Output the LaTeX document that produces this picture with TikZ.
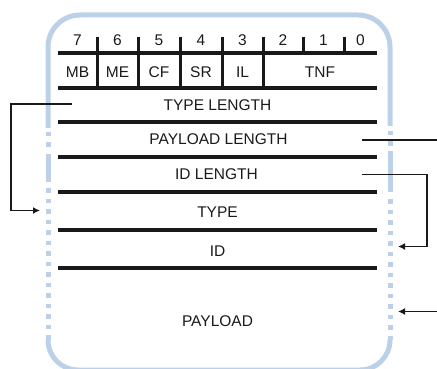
\documentclass[tikz,border=0pt]{standalone}
\usepackage{fontspec}
\setmainfont{Liberation Sans}
\usetikzlibrary{arrows.meta}
\definecolor{frameblue}{RGB}{188,209,233}
\definecolor{ink}{RGB}{25,25,25}
\tikzset{
  frame/.style={draw=frameblue, line width=5pt},
  framedots/.style={frame, dash pattern=on 4.5pt off 6pt},
  rule/.style={draw=ink, line width=3.2pt},
  tick/.style={draw=ink, line width=3pt},
  lbl/.style={inner sep=0pt, text=ink, font=\fontsize{15.5}{17}\selectfont, anchor=center},
  conn/.style={draw=ink, line width=1.4pt},
  arr/.style={conn, -{Latex[length=7pt,width=7pt]}}
}
\begin{document}
\begin{tikzpicture}[x=1pt,y=-1pt]
\useasboundingbox (0,0) rectangle (437,369);

% record frame: solid top, dotted sides, solid bottom corners
\draw[frame, rounded corners=32pt] (48,128) -- (48,15) -- (390,15) -- (390,126);
\begin{scope}
  \clip (0,0) rectangle (437,369);
  \draw[frame, rounded corners=30pt] (48,340) -- (48,370) -- (390,370) -- (390,340);
\end{scope}
% left side
\draw[framedots] (48,132) -- (48,150);
\draw[frame] (48,154) -- (48,182);
\draw[framedots] (48,188) -- (48,342);
% right side
\draw[framedots] (390,131) -- (390,148);
\draw[frame] (390,151) -- (390,192);
\draw[framedots] (390,199) -- (390,342);

% header byte: bit numbers, ticks and flag fields
\foreach \n/\x in {7/77.5,6/117.5,5/159,4/201,3/242.5,2/283,1/323.5,0/360.5}
  \node[lbl] (bit\n) at (\x,40) {\n};
\foreach \x in {97,138,180,222,263}
  \draw[tick] (\x,37) -- (\x,88);
\foreach \x in {303,344}
  \draw[tick] (\x,37) -- (\x,53);
\draw[rule] (58,53) -- (377,53);
\draw[rule] (58,88) -- (377,88);
\node[lbl] (mb) at (77.5,72) {MB};
\node[lbl] (me) at (117.5,72) {ME};
\node[lbl] (cf) at (159,72) {CF};
\node[lbl] (sr) at (201,72) {SR};
\node[lbl] (il) at (242.5,72) {IL};
\node[lbl] (tnf) at (320,72) {TNF};

% record fields
\node[lbl] (typelen) at (217.5,105) {TYPE LENGTH};
\draw[rule] (58,122) -- (377,122);
\node[lbl] (paylen) at (218.5,139) {PAYLOAD LENGTH};
\draw[rule] (58,157) -- (377,157);
\node[lbl] (idlen) at (216.5,174) {ID LENGTH};
\draw[rule] (58,192) -- (377,192);
\node[lbl] (type) at (217.5,212.5) {TYPE};
\draw[rule] (58,230) -- (377,230);
\node[lbl] (id) at (217.5,251) {ID};
\draw[rule] (58,268) -- (377,268);
\node[lbl] (payload) at (217.5,321) {PAYLOAD};

% connector end points
\coordinate (tlout) at (72,104);
\coordinate (typein) at (40,210.5);
\coordinate (plout) at (362,140);
\coordinate (plfar) at (437,140);
\coordinate (ilout) at (362,174.5);
\coordinate (idin) at (398,246.5);
\coordinate (pyfar) at (437,311.5);
\coordinate (pyin) at (398,311.5);

% length fields pointing at the data they describe
\draw[arr] (tlout) -- (11,104) |- (typein);
\draw[conn] (plout) -- (plfar);
\draw[arr] (ilout) -- (427,174.5) |- (idin);
\draw[arr] (pyfar) -- (pyin);
\end{tikzpicture}
\end{document}
